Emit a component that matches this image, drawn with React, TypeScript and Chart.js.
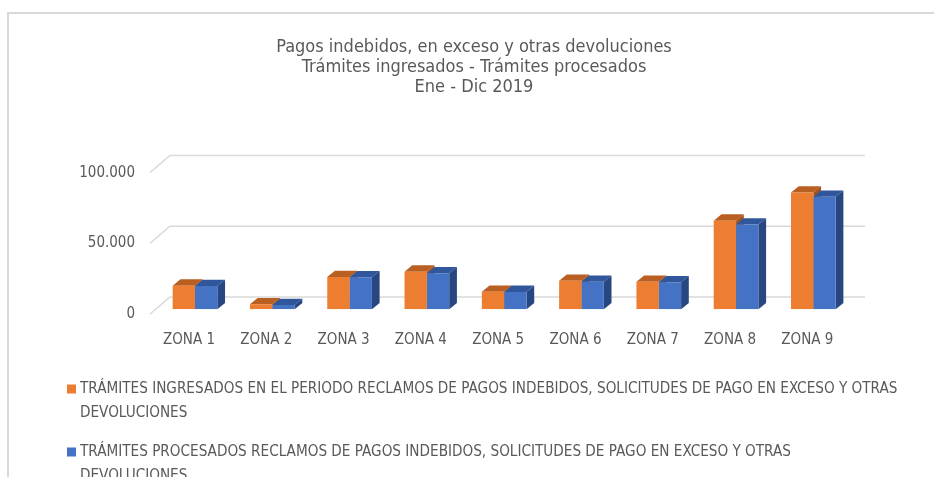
import React, { useEffect, useRef } from "react";
import { Chart, registerables } from "chart.js";

Chart.register(...registerables);

const categories = ["ZONA 1", "ZONA 2", "ZONA 3", "ZONA 4", "ZONA 5", "ZONA 6", "ZONA 7", "ZONA 8", "ZONA 9"];
const ingresados = [16700, 3500, 22800, 26600, 12400, 20200, 19500, 62600, 82400];
const procesados = [16500, 3000, 22600, 25400, 12300, 19500, 19100, 59800, 79500];
const yTickValues = [0, 50000, 100000];
const titleLines = [
  "Pagos indebidos, en exceso y otras devoluciones",
  "Trámites ingresados - Trámites procesados",
  "Ene - Dic 2019",
];
const legendIngresados = [
  "TRÁMITES INGRESADOS EN EL PERIODO RECLAMOS DE PAGOS INDEBIDOS, SOLICITUDES DE PAGO EN EXCESO Y OTRAS",
  "DEVOLUCIONES",
];
const legendProcesados = [
  "TRÁMITES PROCESADOS RECLAMOS DE PAGOS INDEBIDOS, SOLICITUDES DE PAGO EN EXCESO Y OTRAS",
  "DEVOLUCIONES",
];

const FONT = '"Liberation Sans Narrow", "DejaVu Sans Condensed", "Roboto", sans-serif';
const TEXT = "#595959";
const GRID = "#d9d9d9";
const ORANGE = { front: "#ED7D31", top: "#B95F21", side: "#A4521B" };
const BLUE = { front: "#4472C4", top: "#30579B", side: "#284780" };
const DEPTH = { dx: 7.7, dy: -6.3 };

const fmt = (v: number) => String(v).replace(/\B(?=(\d{3})+(?!\d))/g, ".");

const framePlugin = {
  id: "frame",
  beforeDraw(chart: any) {
    const ctx = chart.ctx;
    ctx.save();
    ctx.fillStyle = "#ffffff";
    ctx.fillRect(0, 0, chart.width, chart.height);
    ctx.strokeStyle = GRID;
    ctx.lineWidth = 2;
    ctx.beginPath();
    ctx.moveTo(8, chart.height);
    ctx.lineTo(8, 13);
    ctx.lineTo(chart.width, 13);
    ctx.stroke();
    ctx.restore();
  },
};

const grid3dPlugin = {
  id: "grid3d",
  beforeDatasetsDraw(chart: any) {
    const ctx = chart.ctx;
    const ys = chart.scales.y;
    const { left, right } = chart.chartArea;
    ctx.save();
    ctx.strokeStyle = GRID;
    ctx.lineWidth = 1.5;
    ys.ticks.forEach((t: any) => {
      const y = ys.getPixelForValue(t.value);
      ctx.beginPath();
      ctx.moveTo(left - 6.5, y + 5);
      ctx.lineTo(left + 13.5, y - 12.3);
      ctx.lineTo(right + 13, y - 12.3);
      ctx.stroke();
    });
    // depth faces (drawn behind the library's front faces)
    const palettes = [ORANGE, BLUE];
    chart.data.datasets.forEach((_ds: any, di: number) => {
      const meta = chart.getDatasetMeta(di);
      const pal = palettes[di];
      meta.data.forEach((el: any) => {
        const { x, y, base, width } = el.getProps(["x", "y", "base", "width"], true);
        const l = x - width / 2;
        const r = x + width / 2;
        ctx.fillStyle = pal.top;
        ctx.beginPath();
        ctx.moveTo(l, y);
        ctx.lineTo(l + DEPTH.dx, y + DEPTH.dy);
        ctx.lineTo(r + DEPTH.dx, y + DEPTH.dy);
        ctx.lineTo(r, y);
        ctx.closePath();
        ctx.fill();
        ctx.fillStyle = pal.side;
        ctx.beginPath();
        ctx.moveTo(r, y);
        ctx.lineTo(r + DEPTH.dx, y + DEPTH.dy);
        ctx.lineTo(r + DEPTH.dx, base + DEPTH.dy);
        ctx.lineTo(r, base);
        ctx.closePath();
        ctx.fill();
      });
    });
    ctx.restore();
  },
};

const legendPlugin = {
  id: "legendWrap",
  afterDraw(chart: any) {
    const ctx = chart.ctx;
    const entries = [
      { lines: legendIngresados, color: ORANGE.front, y: 389 },
      { lines: legendProcesados, color: BLUE.front, y: 452 },
    ];
    ctx.save();
    ctx.font = `15.15px ${FONT}`;
    ctx.textBaseline = "middle";
    ctx.textAlign = "left";
    entries.forEach((e) => {
      ctx.fillStyle = e.color;
      ctx.fillRect(67, e.y - 4.5, 9, 9);
      ctx.fillStyle = TEXT;
      e.lines.forEach((line, i) => {
        ctx.fillText(line, 80, e.y + i * 24);
      });
    });
    ctx.restore();
  },
};

export default function App() {
  const ref = useRef<HTMLCanvasElement>(null);
  useEffect(() => {
    document.body.style.margin = "0";
    const chart = new Chart(ref.current!, {
      type: "bar",
      data: {
        labels: categories,
        datasets: [
          { label: legendIngresados.join(" "), data: ingresados, backgroundColor: ORANGE.front, borderWidth: 0 },
          { label: legendProcesados.join(" "), data: procesados, backgroundColor: BLUE.front, borderWidth: 0 },
        ],
      },
      options: {
        animation: false,
        responsive: false,
        events: [],
        layout: { padding: { left: 14, right: 0, top: 0, bottom: 0 } },
        datasets: { bar: { categoryPercentage: 0.578, barPercentage: 1 } },
        plugins: {
          legend: { display: false },
          tooltip: { enabled: false },
          title: {
            display: true,
            text: titleLines,
            color: TEXT,
            font: { family: FONT, size: 18, weight: "normal", lineHeight: "20px" },
            padding: { top: 37, bottom: 70.7 },
          },
        },
        scales: {
          x: {
            grid: { display: false, drawTicks: false },
            border: { display: false },
            ticks: { color: TEXT, font: { family: FONT, size: 15 }, padding: 21.5, labelOffset: -6, maxRotation: 0, autoSkip: false },
            afterFit: (s: any) => { s.height = 477 - 309.3; },
          },
          y: {
            min: 0,
            max: 100000,
            afterBuildTicks: (s: any) => { s.ticks = yTickValues.map((v) => ({ value: v })); },
            grid: { display: false, drawTicks: false },
            border: { display: false },
            ticks: { color: TEXT, font: { family: FONT, size: 15 }, padding: 21.35, labelOffset: 5, callback: (v: any) => fmt(Number(v)) },
            afterFit: (s: any) => { s.width = 142.35; },
          },
          yRight: {
            type: "linear",
            position: "right",
            display: true,
            grid: { display: false, drawTicks: false },
            border: { display: false },
            ticks: { display: false },
            afterFit: (s: any) => { s.width = 82; },
          },
        },
      },
      plugins: [framePlugin, grid3dPlugin, legendPlugin],
    });
    return () => chart.destroy();
  }, []);
  return (
    <div style={{ width: 934, height: 477 }}>
      <canvas ref={ref} width={934} height={477} />
    </div>
  );
}
